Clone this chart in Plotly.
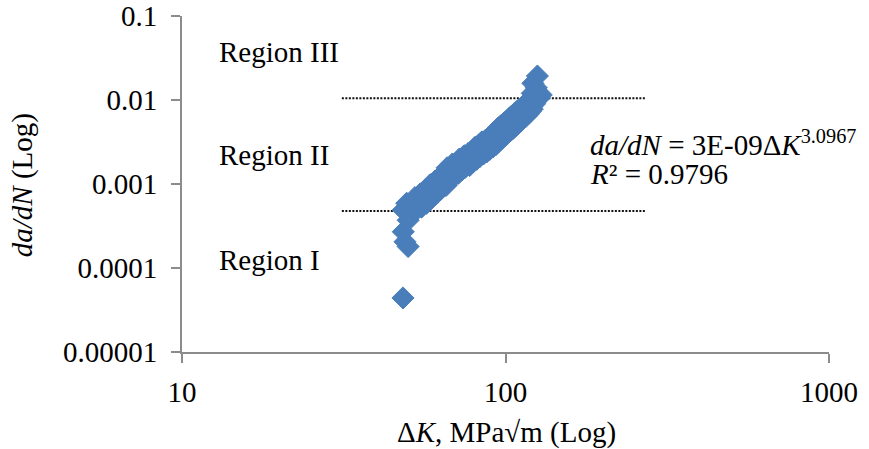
import math
import plotly.graph_objects as go

# ---- data ----
delta_k = [48.2, 50.0, 48.9, 48.3, 50.0, 48.3, 49.5, 51.0, 52.5, 53.0,
           54.5, 55.0, 56.5, 57.0, 58.5, 59.0, 60.5, 61.0, 62.5, 63.0,
           64.5, 65.5, 66.0, 67.5, 68.5, 69.0, 70.5, 71.5, 72.0, 73.5,
           74.5, 75.0, 76.5, 77.5, 78.5, 79.5, 80.5, 81.5, 82.5, 83.5,
           84.5, 85.5, 86.5, 87.5, 88.5, 89.5, 90.5, 91.5, 92.5, 93.5,
           94.5, 95.5, 96.5, 97.5, 98.5, 99.5, 100.5, 101.5, 102.5, 103.5,
           104.5, 105.5, 106.5, 107.5, 108.5, 109.5, 110.5, 111.5, 112.5, 113.5,
           114.5, 115.5, 116.5, 117.5, 118.5, 119.5, 120.5, 121.0, 122.0, 123.0,
           124.0, 125.0, 121.5, 124.5, 125.5, 129.0, 127.0, 121.0,
           55.5, 60.0, 65.0, 70.0, 75.5, 80.0, 85.0, 90.0, 95.0, 100.0,
           105.0, 110.0, 115.0, 119.0]
da_dn = [4.4e-5, 1.8e-4, 2.05e-4, 2.7e-4, 3.7e-4, 4.9e-4, 5.9e-4, 4.6e-4, 6.9e-4, 4.9e-4,
         7.6e-4, 5.3e-4, 8.5e-4, 5.9e-4, 9.8e-4, 6.8e-4, 1.08e-3, 7.6e-4, 1.2e-3, 8.6e-4,
         1.35e-3, 9.6e-4, 1.56e-3, 1.12e-3, 1.73e-3, 1.21e-3, 1.8e-3, 1.34e-3, 1.98e-3, 1.48e-3,
         2.17e-3, 1.57e-3, 2.29e-3, 1.66e-3, 2.45e-3, 1.84e-3, 2.73e-3, 1.97e-3, 2.89e-3, 2.14e-3,
         3.17e-3, 2.28e-3, 3.28e-3, 2.41e-3, 3.55e-3, 2.59e-3, 3.8e-3, 2.77e-3, 4.13e-3, 2.95e-3,
         4.57e-3, 3.22e-3, 4.9e-3, 3.49e-3, 5.23e-3, 3.76e-3, 5.56e-3, 4.03e-3, 6.0e-3, 4.3e-3,
         6.44e-3, 4.57e-3, 6.88e-3, 4.93e-3, 7.32e-3, 5.29e-3, 7.76e-3, 5.65e-3, 8.2e-3, 6.0e-3,
         8.75e-3, 6.37e-3, 9.3e-3, 6.8e-3, 9.95e-3, 7.36e-3, 1.06e-2, 7.8e-3, 1.1e-2, 9.0e-3,
         1.15e-2, 1.22e-2, 1.58e-2, 1.4e-2, 1.93e-2, 1.15e-2, 1.05e-2, 1.2e-2,
         6.5e-4, 8.9e-4, 1.15e-3, 1.5e-3, 1.85e-3, 2.25e-3, 2.7e-3, 3.2e-3, 3.85e-3, 4.6e-3,
         5.4e-3, 6.5e-3, 7.6e-3, 8.8e-3]

# region boundary lines
boundary_x = [31.2, 272.0]
boundary_upper = 0.0105
boundary_lower = 0.000478

x_tick_vals = [10, 100, 1000]
x_tick_text = ["10", "100", "1000"]
y_tick_vals = [0.1, 0.01, 0.001, 0.0001, 0.00001]
y_tick_text = ["0.1", "0.01", "0.001", "0.0001", "0.00001"]

region_labels = ["Region III", "Region II", "Region I"]
region_y = [0.0373, 0.00221, 0.0001245]
region_x = 12.8

eq_text = "<i>da/dN</i> = 3E-09Δ<i>K</i><sup>3.0967</sup>"
r2_text = "<i>R</i>² = 0.9796"
eq_x = 180
eq_y = [0.00305, 0.00131]

FONT = "Liberation Serif"
FS = 29
BLUE = "#4a7ebb"
AXIS = "#8c8c8c"

fig = go.Figure()

for yv in [boundary_upper, boundary_lower]:
    fig.add_trace(go.Scatter(
        x=boundary_x, y=[yv, yv], mode="lines",
        line=dict(color="#111111", width=2, dash="2px,1.5px"),
        showlegend=False, hoverinfo="skip"))

fig.add_trace(go.Scatter(
    x=delta_k, y=da_dn, mode="markers",
    marker=dict(symbol="diamond", size=17, color=BLUE,
                line=dict(color=BLUE, width=1)),
    showlegend=False))

annotations = []
for lab, yv in zip(region_labels, region_y):
    annotations.append(dict(x=math.log10(region_x), y=math.log10(yv), xref="x", yref="y",
                            text=lab, showarrow=False, xanchor="left", yanchor="middle",
                            font=dict(family=FONT, size=FS, color="black")))

annotations.append(dict(x=math.log10(eq_x), y=math.log10(eq_y[0]), xref="x", yref="y",
                        text=eq_text, showarrow=False, xanchor="left", yanchor="middle",
                        font=dict(family=FONT, size=FS, color="black")))
annotations.append(dict(x=math.log10(eq_x), y=math.log10(eq_y[1]), xref="x", yref="y",
                        text=r2_text, showarrow=False, xanchor="left", yanchor="middle",
                        font=dict(family=FONT, size=FS, color="black")))

# axis titles
annotations.append(dict(x=0.502, y=-0.241, xref="paper", yref="paper",
                        text="Δ<i>K</i>, MPa√m (Log)", showarrow=False,
                        xanchor="center", yanchor="middle",
                        font=dict(family=FONT, size=FS, color="black")))
annotations.append(dict(x=-0.247, y=0.497, xref="paper", yref="paper",
                        text="<i>da/dN</i> (Log)", showarrow=False, textangle=-90,
                        xanchor="center", yanchor="middle",
                        font=dict(family=FONT, size=FS, color="black")))

fig.update_layout(
    width=869, height=449,
    margin=dict(l=182, r=40, t=16, b=97),
    paper_bgcolor="white", plot_bgcolor="white",
    font=dict(family=FONT, size=FS, color="black"),
    annotations=annotations,
    xaxis=dict(type="log", range=[1, 3], tickvals=x_tick_vals, ticktext=x_tick_text,
               showgrid=False, zeroline=False, showline=True, linecolor=AXIS, linewidth=2,
               ticks="outside", ticklen=9, tickcolor=AXIS, tickwidth=2,
               ticklabelstandoff=4, automargin=False,
               tickfont=dict(family=FONT, size=FS, color="black")),
    yaxis=dict(type="log", range=[-5, -1], tickvals=y_tick_vals, ticktext=y_tick_text,
               showgrid=False, zeroline=False, showline=True, linecolor=AXIS, linewidth=2,
               ticks="outside", ticklen=9, tickcolor=AXIS, tickwidth=2,
               ticklabelstandoff=8, automargin=False,
               tickfont=dict(family=FONT, size=FS, color="black")),
)

fig.write_html("out.html")
